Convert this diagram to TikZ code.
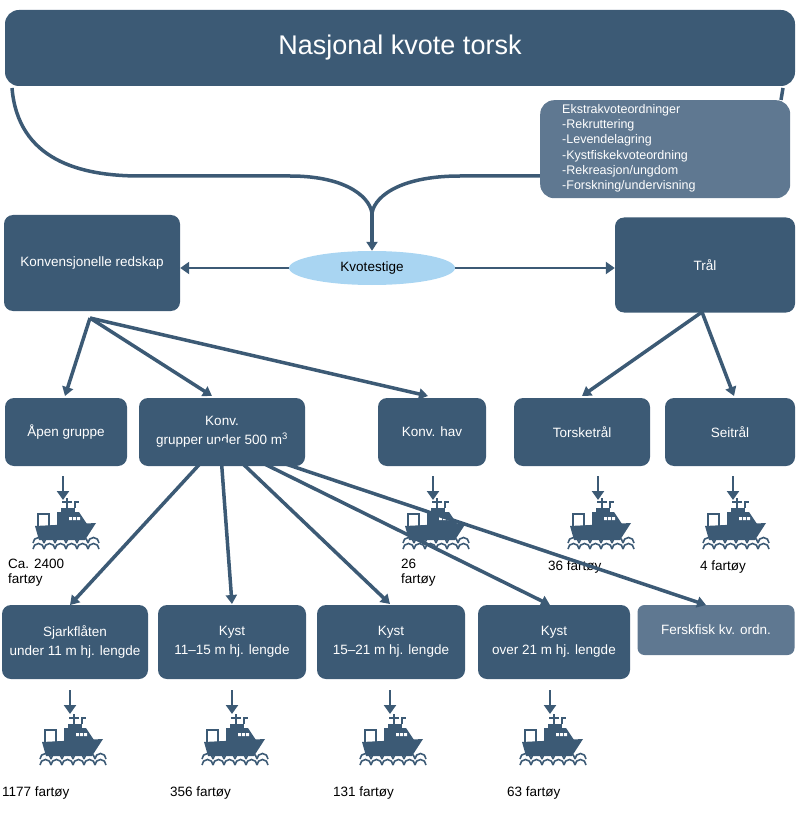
\documentclass[tikz,border=0pt]{standalone}
\usepackage{fontspec}
\setmainfont{Liberation Sans}
\usetikzlibrary{shapes.geometric,arrows.meta}
\definecolor{dk}{HTML}{3C5A75}
\definecolor{lt}{HTML}{5F7891}
\definecolor{sky}{HTML}{A9D5F2}
\tikzset{
 box/.style={draw=none,fill=dk,rounded corners=9pt,text=white,align=center,font=\fontsize{13.5}{19}\selectfont},
 ln/.style={draw=dk,line width=3.5pt},
 ar/.style={ln,-{Triangle[length=9pt,width=11pt]}},
 sar/.style={draw=dk,line width=2.2pt,-{Triangle[length=9pt,width=12pt]}},
 lab/.style={font=\fontsize{13.5}{15}\selectfont,align=left,anchor=north west,inner sep=0pt},
 boat/.pic={
  \fill[dk] (-28,-12) -- (33,-15) -- (22,2) -- (-24,2) -- cycle;
  \fill[dk] (-6,-12) -- (-6,-26) -- (16,-26) -- (24,-14) -- cycle;
  \fill[dk] (-2,-26) rectangle (12,-30);
  \draw[dk,line width=1.6pt] (-25,-12) -- (-25,-24) -- (-14,-24) -- (-14,-12);
  \draw[dk,line width=1.5pt] (4,-30) -- (4,-40) (-1,-36) -- (9,-36) (12,-30)--(12,-36)--(16,-36);
  \fill[white] (6,-21) rectangle (9,-18) (10,-21) rectangle (13,-18) (14,-21) rectangle (17,-18);
  \foreach \i in {0,...,5}{\draw[dk,line width=1.6pt] (-30+\i*11,5) arc[start angle=180,end angle=360,radius=5.5];}
  \foreach \i in {0,...,5}{\draw[dk,line width=1.6pt] (-30+\i*11,11) arc[start angle=180,end angle=360,radius=5.5];}
 }
}
\begin{document}
\begin{tikzpicture}[x=1pt,y=-1pt]
\useasboundingbox (0,0) rectangle (800,818);
% top
\node[box,minimum width=790,minimum height=76,rounded corners=14pt,font=\fontsize{27}{30}\selectfont] (top) at (400,48) {Nasjonal kvote torsk};
\draw[ln] (12,88) .. controls (18,160) and (80,176) .. (140,176) -- (290,176) .. controls (350,176) and (372,200) .. (372,215);
\draw[ln] (540,176) -- (460,176) .. controls (395,176) and (372,200) .. (372,215);
\draw[ln] (783,88) -- (781,100);
\node[box,fill=lt,minimum width=250,minimum height=98,rounded corners=14pt,anchor=north west,inner sep=0pt] (ek) at (540,100) {};
\node[lab,text=white,font=\fontsize{12.5}{15.3}\selectfont] (ekt) at (562,104) {Ekstrakvoteordninger\\-Rekruttering\\-Levendelagring\\-Kystfiskekvoteordning\\-Rekreasjon/ungdom\\-Forskning/undervisning};
% row 1
\node[box,minimum width=176,minimum height=96] (konv) at (92,263) {Konvensjonelle redskap};
\node[ellipse,fill=sky,minimum width=166,minimum height=34,font=\fontsize{13.5}{15}\selectfont] (kv) at (372,268) {Kvotestige};
\node[box,minimum width=180,minimum height=95] (tral) at (705,265) {Trål};
\draw[ar] (372,215) -- (kv.north);
\draw[sar] (kv.west) -- (konv.east |- kv.west);
\draw[sar] (kv.east) -- (tral.west |- kv.east);
% row 2
\node[box,minimum width=122,minimum height=68] (apen) at (66,432) {Åpen gruppe};
\node[box,minimum width=166,minimum height=68] (kg) at (222,432) {Konv.\\grupper under 500 m\textsuperscript{3}};
\node[box,minimum width=108,minimum height=68] (kh) at (432,432) {Konv. hav};
\node[box,minimum width=136,minimum height=68] (tt) at (582,432) {Torsketrål};
\node[box,minimum width=130,minimum height=68] (st) at (730,432) {Seitrål};
\coordinate (ko) at (90,318);
\draw[ar] (ko) -- (65,396);
\draw[ar] (ko) -- (212,396);
\draw[ar] (ko) -- (428,396);
\coordinate (to) at (702,312);
\draw[ar] (to) -- (582,396);
\draw[ar] (to) -- (734,396);
% boats row 2
\foreach \x/\n in {63/b1,433/b2,598/b3,733/b4}{
 \coordinate (\n a) at (\x,476); \coordinate (\n b) at (\x,500);
 \draw[sar] (\n a) -- (\n b);
 \pic at (\x,538) {boat};
}
\node[lab] (l1) at (8,559) {Ca. 2400\\fartøy};
\node[lab] (l2) at (401,559) {26\\fartøy};
\node[lab] (l3) at (548,561) {36 fartøy};
\node[lab] (l4) at (700,561) {4 fartøy};
% row 3
\node[box,minimum width=146,minimum height=74] (s1) at (75,642) {Sjarkflåten\\under 11 m hj. lengde};
\node[box,minimum width=148,minimum height=74] (s2) at (232,642) {Kyst\\11–15 m hj. lengde};
\node[box,minimum width=148,minimum height=74] (s3) at (391,642) {Kyst\\15–21 m hj. lengde};
\node[box,minimum width=152,minimum height=74] (s4) at (554,642) {Kyst\\over 21 m hj. lengde};
\node[box,fill=lt,minimum width=157,minimum height=50,rounded corners=7pt] (ff) at (716,630) {Ferskfisk kv. ordn.};
\coordinate (go) at (220,442);
\draw[ar] (go) -- (70,605);
\draw[ar] (go) -- (232,604);
\draw[ar] (go) -- (390,604);
\draw[ar] (go) -- (550,605);
\draw[ar] (go) -- (706,605);
\foreach \x/\n in {70/c1,232/c2,390/c3,550/c4}{
 \coordinate (\n a) at (\x,690); \coordinate (\n b) at (\x,714);
 \draw[sar] (\n a) -- (\n b);
 \pic at (\x,754) {boat};
}
\node[lab] (k1) at (2,787) {1177 fartøy};
\node[lab] (k2) at (170,787) {356 fartøy};
\node[lab] (k3) at (333,787) {131 fartøy};
\node[lab] (k4) at (507,787) {63 fartøy};
\end{tikzpicture}
\end{document}
